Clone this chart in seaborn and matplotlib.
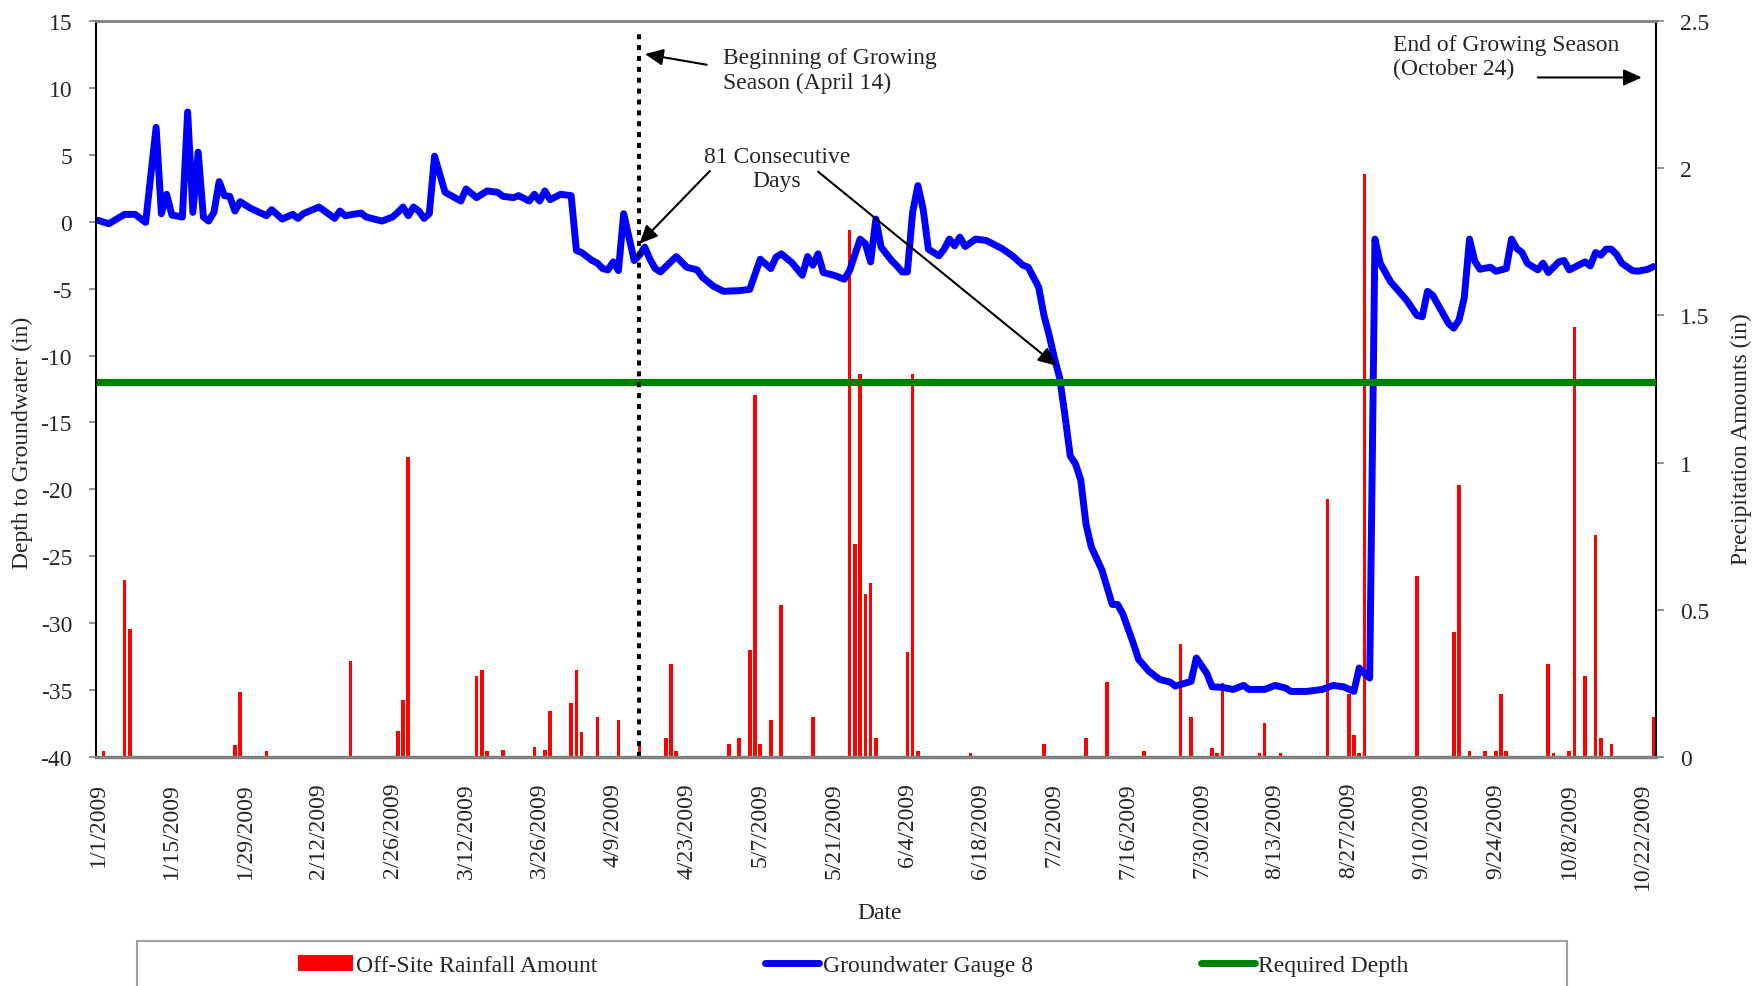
import numpy as np
import pandas as pd
import matplotlib
matplotlib.use('Agg')
import matplotlib.pyplot as plt
from matplotlib.lines import Line2D
from matplotlib.patches import Patch, Rectangle
import seaborn as sns

# x positions are day numbers: 0 = 1/1/2009 ... 296 = 10/24/2009
n_days = 297

# Groundwater gauge 8, depth to groundwater (in)
gauge_day = [0, 2, 5, 7, 9, 11, 12, 13, 14, 16, 17, 18, 19, 20, 21, 22, 23, 24, 25, 26,
             27, 29, 32, 33, 35, 37, 38, 39, 42, 45, 46, 47, 50, 51, 54, 56, 57, 58, 59, 60,
             61, 62, 63, 64, 66, 69, 70, 72, 74, 76, 77, 79, 80, 82, 83, 84, 85, 86, 88, 90,
             91, 92, 94, 95, 96, 97, 98, 99, 100, 102, 103, 104, 105, 106, 107, 110, 112, 114, 115, 117,
             119, 122, 124, 126, 128, 129, 130, 132, 134, 135, 136, 137, 138, 140, 142, 143, 145, 146, 147, 148,
             149, 151, 152, 153, 154, 155, 156, 157, 158, 160, 161, 162, 163, 164, 165, 167, 169, 171, 172, 174,
             176, 177, 179, 180, 181, 182, 183, 184, 185, 186, 187, 188, 189, 191, 192, 193, 194, 195, 197, 198,
             200, 202, 204, 205, 208, 209, 211, 212, 214, 216, 218, 219, 222, 224, 226, 227, 230, 233, 235, 237,
             239, 240, 241, 242, 243, 244, 246, 249, 251, 252, 253, 254, 257, 258, 259, 260, 261, 262, 263, 265,
             266, 268, 269, 270, 271, 272, 274, 275, 276, 278, 279, 280, 281, 283, 284, 285, 286, 287, 288, 289,
             290, 292, 293, 295, 296]
gauge_depth = [0.1, -0.15, 0.55, 0.55, -0.05, 7.05, 0.6, 2.05, 0.5, 0.35, 8.2, 0.7, 5.2, 0.35, 0.05, 0.7, 3.0, 1.95, 1.9, 0.8,
               1.5, 1.0, 0.45, 0.9, 0.2, 0.55, 0.25, 0.6, 1.1, 0.25, 0.8, 0.45, 0.65, 0.35, 0.05, 0.35, 0.7, 1.1, 0.45, 1.1,
               0.8, 0.25, 0.6, 4.9, 2.2, 1.55, 2.45, 1.8, 2.3, 2.2, 1.9, 1.8, 1.95, 1.55, 2.05, 1.55, 2.3, 1.65, 2.05, 1.95,
               -2.15, -2.3, -2.9, -3.1, -3.5, -3.6, -3.0, -3.65, 0.6, -2.9, -2.5, -1.9, -2.8, -3.5, -3.75, -2.6, -3.4, -3.6, -4.15, -4.8,
               -5.2, -5.15, -5.05, -2.8, -3.5, -2.65, -2.4, -3.05, -4.0, -2.6, -3.25, -2.4, -3.8, -4.0, -4.3, -3.65, -1.3, -1.65, -3.0, 0.2,
               -1.9, -2.9, -3.3, -3.75, -3.75, 0.7, 2.7, 0.95, -2.05, -2.55, -2.05, -1.3, -1.8, -1.15, -1.85, -1.3, -1.4, -1.8, -2.0, -2.55,
               -3.25, -3.4, -4.9, -7.0, -8.5, -10.2, -11.7, -14.5, -17.5, -18.1, -19.3, -22.6, -24.3, -26.0, -27.3, -28.6, -28.6, -29.3, -31.5, -32.7,
               -33.6, -34.2, -34.4, -34.7, -34.35, -32.6, -33.75, -34.75, -34.8, -34.95, -34.65, -34.95, -34.95, -34.65, -34.85, -35.1, -35.1, -34.95, -34.65, -34.75,
               -35.1, -33.35, -33.75, -34.1, -1.3, -3.1, -4.5, -5.85, -7.0, -7.1, -5.2, -5.5, -7.6, -7.95, -7.35, -5.7, -1.3, -2.95, -3.55, -3.4,
               -3.7, -3.5, -1.3, -2.0, -2.3, -3.1, -3.6, -3.1, -3.8, -3.0, -2.9, -3.6, -3.4, -3.0, -3.3, -2.3, -2.5, -2.05, -2.05, -2.45,
               -3.1, -3.65, -3.7, -3.55, -3.35]

# Off-site rainfall (in)
rain_day = [1, 5, 6, 26, 27, 32, 48, 57, 58, 59, 72, 73, 74, 77, 83, 85, 86, 90, 91, 92,
            95, 99, 103, 108, 109, 110, 120, 122, 124, 125, 126, 128, 130, 136, 143, 144, 145, 146, 147, 148,
            154, 155, 156, 166, 180, 188, 192, 199, 206, 208, 212, 213, 214, 221, 222, 225, 234, 238, 239, 240,
            241, 251, 258, 259, 261, 264, 266, 267, 268, 276, 277, 280, 281, 283, 285, 286, 288, 296]
rain_in = [0.02, 0.60, 0.435, 0.04, 0.22, 0.02, 0.325, 0.09, 0.195, 1.02, 0.275, 0.295, 0.02, 0.025, 0.035, 0.025, 0.155, 0.185, 0.295, 0.085,
           0.135, 0.125, 0.05, 0.065, 0.315, 0.02, 0.045, 0.065, 0.365, 1.23, 0.045, 0.125, 0.515, 0.135, 1.79, 0.725, 1.30, 0.555, 0.59, 0.065,
           0.355, 1.30, 0.02, 0.015, 0.045, 0.065, 0.255, 0.02, 0.385, 0.135, 0.03, 0.015, 0.25, 0.015, 0.115, 0.015, 0.875, 0.215, 0.075, 0.015,
           1.98, 0.615, 0.425, 0.925, 0.02, 0.02, 0.02, 0.215, 0.02, 0.315, 0.015, 0.02, 1.46, 0.275, 0.755, 0.065, 0.045, 0.135]

required_depth = -12
season_start_day = 103  # April 14

tick_days = list(range(0, 295, 14))
tick_labels = ['1/1/2009', '1/15/2009', '1/29/2009', '2/12/2009', '2/26/2009', '3/12/2009',
               '3/26/2009', '4/9/2009', '4/23/2009', '5/7/2009', '5/21/2009', '6/4/2009',
               '6/18/2009', '7/2/2009', '7/16/2009', '7/30/2009', '8/13/2009', '8/27/2009',
               '9/10/2009', '9/24/2009', '10/8/2009', '10/22/2009']

sns.set_style('white')
plt.rcParams['font.family'] = ['Liberation Serif', 'DejaVu Serif']
plt.rcParams['font.size'] = 17

fig = plt.figure(figsize=(17.58, 9.87), dpi=100)
ax = fig.add_axes([0.05444, 0.23202, 0.88754, 0.74569])
ax2 = ax.twinx()
ax.set_zorder(ax2.get_zorder() + 1)
ax.patch.set_visible(False)

# rainfall bars on the right axis
sns.barplot(x=rain_day, y=rain_in, ax=ax2, native_scale=True, color='red',
            saturation=1, width=0.7, errorbar=None, linewidth=0)

# groundwater line and required depth
sns.lineplot(x=gauge_day, y=gauge_depth, ax=ax, color='blue', linewidth=5,
             solid_joinstyle='round', solid_capstyle='round')
ax.axhline(required_depth, color='green', linewidth=5.2)
ax.plot([season_start_day, season_start_day], [-40, 14], color='black', linewidth=2.9,
        linestyle=(0, (1.25, 1.45)), dash_capstyle='butt')

ax.set_xlim(-0.5, n_days - 0.5)
ax2.set_xlim(-0.5, n_days - 0.5)
ax.set_ylim(-40, 15)
ax2.set_ylim(0, 2.5)

ax.set_yticks(range(-40, 16, 5))
ax.set_yticklabels([str(v) for v in range(-40, 16, 5)])
ax2.set_yticks([0, 0.5, 1, 1.5, 2, 2.5])
ax2.set_yticklabels(['0', '0.5', '1', '1.5', '2', '2.5'])
ax.set_xticks(tick_days)
ax.set_xticklabels(tick_labels, rotation=90)
ax.tick_params(axis='x', length=0, pad=18, labelsize=17)
ax.tick_params(axis='y', left=True, direction='out', length=5, width=1.2, color='#808080', pad=12, labelsize=17)
ax2.tick_params(axis='y', right=True, direction='out', length=5.5, width=1.2, color='#808080', pad=12, labelsize=17)
ax2.tick_params(axis='x', bottom=False, labelbottom=False)
ax.set_xlabel('')
ax.set_ylabel('')
ax2.set_xlabel('')
ax2.set_ylabel('')

for s in ['top', 'bottom', 'left', 'right']:
    ax2.spines[s].set_visible(False)
ax2.spines['right'].set_visible(True)
ax2.spines['right'].set_color('black')
ax2.spines['right'].set_linewidth(1.5)
ax.spines['right'].set_visible(False)
ax.spines['left'].set_color('black')
ax.spines['left'].set_linewidth(1.5)
ax.spines['top'].set_color('#808080')
ax.spines['top'].set_linewidth(2)
ax.spines['bottom'].set_color('#808080')
ax.spines['bottom'].set_linewidth(2.5)

# annotations
arrow = dict(arrowstyle='-|>,head_length=1.1,head_width=0.5', color='black', lw=1.5,
             mutation_scale=10, shrinkA=0, shrinkB=0)
ax.text(118.9, 11.35, 'Beginning of Growing\nSeason (April 14)', ha='left', va='center', fontsize=17)
ax.annotate('', xy=(104.05, 12.53), xytext=(115.8, 11.73), arrowprops=arrow)
ax.text(246.5, 12.33, 'End of Growing Season\n(October 24)', ha='left', va='center', fontsize=17)
ax.annotate('', xy=(293.8, 10.78), xytext=(274.0, 10.78), arrowprops=arrow)
ax.text(129.2, 3.97, '81 Consecutive\nDays', ha='center', va='center', multialignment='center', fontsize=17)
ax.annotate('', xy=(103.0, -1.64), xytext=(116.4, 3.79), arrowprops=arrow)
ax.annotate('', xy=(182.4, -10.76), xytext=(137.0, 3.74), arrowprops=arrow)

# axis titles
fig.text(22 / 1758, 1 - 443 / 987, 'Depth to Groundwater (in)', rotation=90, ha='center', va='center', fontsize=17)
fig.text(1741 / 1758, 1 - 439 / 987, 'Precipitation Amounts (in)', rotation=90, ha='center', va='center', fontsize=17)
fig.text(880 / 1758, 1 - 914 / 987, 'Date', ha='center', va='center', fontsize=17)

# legend
handles = [Patch(facecolor='red', edgecolor='none', label='Off-Site Rainfall Amount'),
           Line2D([], [], color='blue', linewidth=5, solid_capstyle='round', label='Groundwater Gauge 8'),
           Line2D([], [], color='green', linewidth=5, solid_capstyle='round', label='Required Depth')]
fig.legend(handles=handles, loc='center', bbox_to_anchor=(0.4855, 0.0206), ncol=3, frameon=False,
           fontsize=17, handlelength=2.3, handletextpad=0.15, columnspacing=7.1)
fig.patches.append(Rectangle((136.8 / 1758, -0.05), (1567.3 - 136.8) / 1758, 0.0459 + 0.05,
                             transform=fig.transFigure, fill=False, edgecolor='#a0a0a0', linewidth=1.5))

fig.savefig('out.png', dpi=100)
